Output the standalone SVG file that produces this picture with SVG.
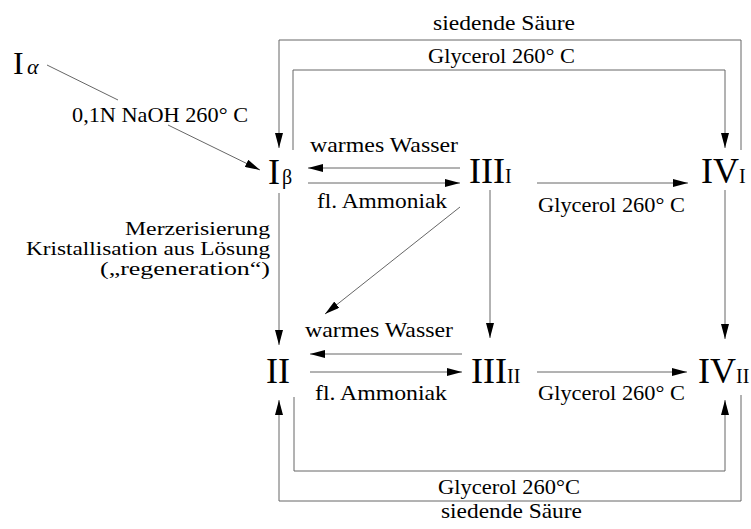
<svg xmlns="http://www.w3.org/2000/svg" width="751" height="529" viewBox="0 0 751 529">
<style>
.lbl{font-family:"Liberation Serif","Times New Roman",serif;font-size:22px;fill:#000}
.side{font-family:"Liberation Serif","Times New Roman",serif;font-size:18px;fill:#000}
.big{font-family:"Liberation Serif","Times New Roman",serif;font-size:36px;fill:#000}
.sub{font-family:"Liberation Serif","Times New Roman",serif;font-size:20px;fill:#000}
.con{fill:none;stroke:#666;stroke-width:1}
</style>
<defs>
<marker id="ah" viewBox="0 0 15 8" refX="15" refY="4" markerWidth="15" markerHeight="8" markerUnits="userSpaceOnUse" orient="auto">
<path d="M0,0 L15,4 L0,8 z" fill="#000"/>
</marker>
</defs>
<rect width="751" height="529" fill="#fff"/>
<g id="connectors">
<path class="con" d="M47,65 L118,100 M168,125 L260,170" marker-end="url(#ah)"/>
<path class="con" d="M741,150 V40 H279 V148" marker-end="url(#ah)"/>
<path class="con" d="M293,150 V70 H725 V148" marker-end="url(#ah)"/>
<path class="con" d="M460,168 H308" marker-end="url(#ah)"/>
<path class="con" d="M308,183 H460" marker-end="url(#ah)"/>
<path class="con" d="M537,183 H688" marker-end="url(#ah)"/>
<path class="con" d="M279,193 V345" marker-end="url(#ah)"/>
<path class="con" d="M460,207 L325,314" marker-end="url(#ah)"/>
<path class="con" d="M490,190 V338" marker-end="url(#ah)"/>
<path class="con" d="M725,190 V339" marker-end="url(#ah)"/>
<path class="con" d="M462,354 H310" marker-end="url(#ah)"/>
<path class="con" d="M310,372 H462" marker-end="url(#ah)"/>
<path class="con" d="M537,372 H687" marker-end="url(#ah)"/>
<path class="con" d="M294,397 V471 H725 V400" marker-end="url(#ah)"/>
<path class="con" d="M741,395 V501 H279 V400" marker-end="url(#ah)"/>
</g>
<g id="labels">
<text class="lbl" x="433" y="30" textLength="142" lengthAdjust="spacingAndGlyphs">siedende Säure</text>
<text class="lbl" x="428" y="63" textLength="147" lengthAdjust="spacingAndGlyphs">Glycerol 260° C</text>
<text class="lbl" x="72" y="122" textLength="176" lengthAdjust="spacingAndGlyphs">0,1N NaOH 260° C</text>
<text class="lbl" x="310" y="152" textLength="148" lengthAdjust="spacingAndGlyphs">warmes Wasser</text>
<text class="lbl" x="317" y="208" textLength="130" lengthAdjust="spacingAndGlyphs">fl. Ammoniak</text>
<text class="lbl" x="538" y="212" textLength="147" lengthAdjust="spacingAndGlyphs">Glycerol 260° C</text>
<text class="side" x="125" y="235" textLength="145" lengthAdjust="spacingAndGlyphs">Merzerisierung</text>
<text class="side" x="26" y="255" textLength="244" lengthAdjust="spacingAndGlyphs">Kristallisation aus Lösung</text>
<text class="side" x="100" y="275" textLength="170" lengthAdjust="spacingAndGlyphs">(„regeneration“)</text>
<text class="lbl" x="305" y="337" textLength="148" lengthAdjust="spacingAndGlyphs">warmes Wasser</text>
<text class="lbl" x="315" y="400" textLength="132" lengthAdjust="spacingAndGlyphs">fl. Ammoniak</text>
<text class="lbl" x="538" y="400" textLength="147" lengthAdjust="spacingAndGlyphs">Glycerol 260° C</text>
<text class="lbl" x="438" y="494" textLength="142" lengthAdjust="spacingAndGlyphs">Glycerol 260°C</text>
<text class="lbl" x="441" y="518" textLength="141" lengthAdjust="spacingAndGlyphs">siedende Säure</text>
</g>
<g id="node-Ialpha"><text x="13" y="74"><tspan class="big" style="font-size:32px">I</tspan><tspan class="sub" x="27" font-style="italic" style="font-size:22px">α</tspan></text></g>
<g id="node-Ibeta"><text x="268" y="184"><tspan class="big">I</tspan><tspan class="sub" x="282">β</tspan></text></g>
<g id="node-IIII"><text x="469" y="183"><tspan class="big">III</tspan><tspan class="sub">I</tspan></text></g>
<g id="node-IVI"><text x="701" y="183"><tspan class="big">IV</tspan><tspan class="sub">I</tspan></text></g>
<g id="node-II"><text x="266" y="383"><tspan class="big">II</tspan></text></g>
<g id="node-IIIII"><text x="471" y="383"><tspan class="big">III</tspan><tspan class="sub">II</tspan></text></g>
<g id="node-IVII"><text x="698" y="383"><tspan class="big">IV</tspan><tspan class="sub">II</tspan></text></g>
</svg>
